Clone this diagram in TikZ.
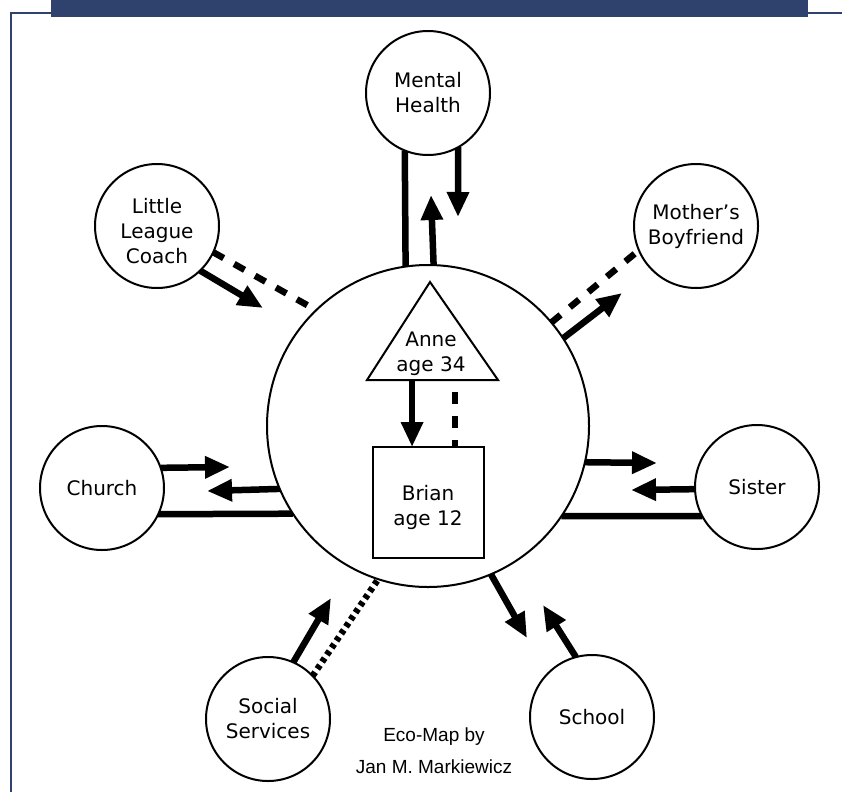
\documentclass[tikz,border=0pt]{standalone}
\usepackage{fontspec}
\setmainfont{DejaVu Sans}
\newfontfamily\ecofont{Liberation Sans}
\usetikzlibrary{arrows.meta,calc}
\pgfdeclarelayer{background}
\pgfsetlayers{background,main}
\definecolor{barblue}{HTML}{2F426E}
\begin{document}
\begin{tikzpicture}[x=1pt,y=-1pt,
  lbl/.style={align=center,font=\fontsize{20}{25}\selectfont},
  sat/.style={circle,draw,line width=2pt,fill=white,minimum size=124pt,inner sep=0pt,outer sep=0pt,lbl},
  conn/.style={line width=6.5pt},
  arr/.style={conn,-{Triangle[width=21pt,length=25pt]}},
  dashconn/.style={conn,dash pattern=on 12pt off 12pt},
  dotconn/.style={conn,dash pattern=on 4.5pt off 4pt},
]
\useasboundingbox (0,0) rectangle (842,792);
% frame
\fill[barblue] (51,0) rectangle (808,17);
\draw[barblue,line width=2pt] (11,792) -- (11,13) -- (51,13);
\draw[barblue,line width=2pt] (808,13) -- (842,13);

% central circle
\node[circle,draw,line width=2pt,fill=white,minimum size=322pt,inner sep=0pt,outer sep=0pt] (c) at (428,426) {};

% satellites
\node[sat] (mh) at (428,93) {Mental\\Health};
\node[sat] (llc) at (157,226) {};
\node[lbl] (llctxt) at (157,231) {Little\\League\\Coach};
\node[sat] (mb) at (696,226) {Mother’s\\Boyfriend};
\node[sat] (ch) at (102,488) {Church};
\node[sat] (si) at (757,487) {Sister};
\node[sat] (ss) at (268,719) {Social\\Services};
\node[sat] (sc) at (592,717) {School};

% arrow end points
\coordinate (mhup) at (431,195);
\coordinate (mhdn) at (458,217);
\coordinate (llcarr) at (263,308);
\coordinate (mbarr) at (622,293);
\coordinate (charr1) at (230,467);
\coordinate (charr2) at (207,491);
\coordinate (siarr1) at (657,463);
\coordinate (siarr2) at (631,490);
\coordinate (ssarr) at (331,598);
\coordinate (scarr1) at (527,638);
\coordinate (scarr2) at (543,605);

\begin{pgfonlayer}{background}
% Mental Health
\draw[conn] (mh.248.2) -- (c.98.2);
\draw[arr] (c.88.9) -- (mhup);
\draw[arr] (mh.-61.1) -- (mhdn);
% Little League Coach
\draw[dashconn] (llc.-25.8) -- (c.134.8);
\draw[arr] (llc.-46.2) -- (llcarr);
% Mother's Boyfriend
\draw[dashconn] (c.40.4) -- (mb.203.9);
\draw[arr] (c.33.4) -- (mbarr);
% Church
\draw[arr] (ch.19.8) -- (charr1);
\draw[arr] (c.203.8) -- (charr2);
\draw[conn] (ch.-25.8) -- (c.213.6);
% Sister
\draw[arr] (c.-13.3) -- (siarr1);
\draw[arr] (si.182.8) -- (siarr2);
\draw[conn] (c.-34.4) -- (si.208.9);
% Social Services
\draw[arr] (ss.66.7) -- (ssarr);
\draw[dotconn] (ss.44.4) -- (c.252.7);
% School
\draw[arr] (c.-67.4) -- (scarr1);
\draw[arr] (sc.105.8) -- (scarr2);
\end{pgfonlayer}

% family inside
\coordinate (ta) at (430,282);
\coordinate (tl) at (367,380);
\coordinate (tr) at (498,380);
\draw[line width=2pt,line join=miter] (ta) -- (tl) -- (tr) -- cycle;
\node[lbl] (anne) at (431,354) {Anne\\age 34};
\node[draw,line width=2pt,minimum size=111pt,inner sep=0pt,outer sep=0pt] (brian) at (428.5,502.5) {};
\node[lbl] (briantxt) at (428,507) {Brian\\age 12};
\coordinate (ab1) at ($(tl)!0.344!(tr)$);
\coordinate (ab2) at ($(tl)!0.672!(tr)$);
\draw[arr] (ab1) -- (ab1 |- brian.north);
\draw[dashconn,dash phase=12pt] (ab2) -- (ab2 |- brian.north);

% caption
\node[font=\ecofont\fontsize{19}{32}\selectfont,align=center] (eco) at (434,751) {Eco-Map by\\Jan M. Markiewicz};
\end{tikzpicture}
\end{document}
